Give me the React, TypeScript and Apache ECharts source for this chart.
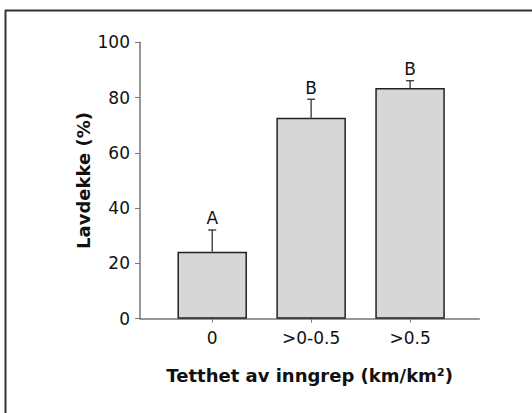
import React, { useEffect, useRef } from "react";
import * as echarts from "echarts";

const categories = ["0", ">0-0.5", ">0.5"];
const means = [24.2, 72.7, 83.5];
const upperErrors = [32.1, 79.4, 86.1];
const letters = ["A", "B", "B"];
const yTicks = [0, 20, 40, 60, 80, 100];

const FONT = "DejaVu Sans";

export default function App() {
  const ref = useRef<HTMLDivElement>(null);
  useEffect(() => {
    if (!ref.current) return;
    const chart = echarts.init(ref.current, null, { renderer: "svg" });
    const barData = categories.map((_, i) => [i, means[i]]);
    const errData = categories.map((_, i) => [i, means[i], upperErrors[i], letters[i]]);
    chart.setOption({
      animation: false,
      backgroundColor: "#fff",
      textStyle: { fontFamily: FONT },
      grid: { left: 140, right: 52.7, top: 42.3, bottom: 94.3 },
      graphic: [
        { type: "line", shape: { x1: 5, y1: 10.5, x2: 532, y2: 10.5 }, style: { stroke: "#333", lineWidth: 2 } },
        { type: "line", shape: { x1: 5.5, y1: 10, x2: 5.5, y2: 413 }, style: { stroke: "#333", lineWidth: 2 } },
      ],
      xAxis: {
        type: "value",
        min: -0.73,
        max: 2.7,
        name: "Tetthet av inngrep (km/km²)",
        nameLocation: "middle",
        nameGap: 48,
        nameMoveOverlap: false,
        nameTextStyle: { fontFamily: FONT, fontSize: 18, fontWeight: "bold", color: "#111" },
        splitLine: { show: false },
        axisLine: { onZero: false, lineStyle: { color: "#777", width: 1.5 } },
        axisTick: { show: true, length: 4, lineStyle: { color: "#777" }, customValues: [0, 1, 2] },
        axisLabel: {
          customValues: [0, 1, 2],
          formatter: (v: number) => categories[Math.round(v)] ?? "",
          fontFamily: FONT,
          fontSize: 17,
          color: "#111",
          margin: 11,
        },
      },
      yAxis: {
        type: "value",
        min: 0,
        max: 100,
        interval: 20,
        name: "Lavdekke (%)",
        nameLocation: "middle",
        nameGap: 48,
        nameMoveOverlap: false,
        nameRotate: 90,
        nameTextStyle: { fontFamily: FONT, fontSize: 18, fontWeight: "bold", color: "#111" },
        splitLine: { show: false },
        axisLine: { show: true, onZero: false, lineStyle: { color: "#777", width: 1.5 } },
        axisTick: { show: true, length: 5, lineStyle: { color: "#777" } },
        axisLabel: {
          fontFamily: FONT,
          fontSize: 17,
          color: "#111",
          margin: 10,
          formatter: (v: number) => (yTicks.includes(v) ? String(v) : ""),
        },
      },
      series: [
        {
          type: "bar",
          data: barData,
          barWidth: 69.5,
          itemStyle: { color: "#d7d7d7", borderColor: "#222", borderWidth: 1.5 },
          z: 2,
        },
        {
          type: "custom",
          data: errData,
          z: 3,
          renderItem: (params: any, api: any) => {
            const x = api.value(0);
            const m = api.value(1);
            const u = api.value(2);
            const letter = letters[params.dataIndex];
            const p0 = api.coord([x, m]);
            const p1 = api.coord([x, u]);
            const half = 4;
            return {
              type: "group",
              children: [
                {
                  type: "line",
                  shape: { x1: p0[0], y1: p0[1], x2: p1[0], y2: p1[1] },
                  style: { stroke: "#333", lineWidth: 1.3 },
                },
                {
                  type: "line",
                  shape: { x1: p1[0] - half, y1: p1[1], x2: p1[0] + half, y2: p1[1] },
                  style: { stroke: "#333", lineWidth: 1.3 },
                },
                {
                  type: "text",
                  x: p1[0],
                  y: p1[1] - 3,
                  style: {
                    text: letter,
                    fill: "#111",
                    font: `17px "${FONT}"`,
                    align: "center",
                    verticalAlign: "bottom",
                    textAlign: "center",
                    textVerticalAlign: "bottom",
                  },
                },
              ],
            };
          },
        },
      ],
    });
    return () => chart.dispose();
  }, []);
  return (
    <div
      ref={ref}
      style={{ position: "fixed", left: 0, top: 0, width: 532, height: 413 }}
    />
  );
}
